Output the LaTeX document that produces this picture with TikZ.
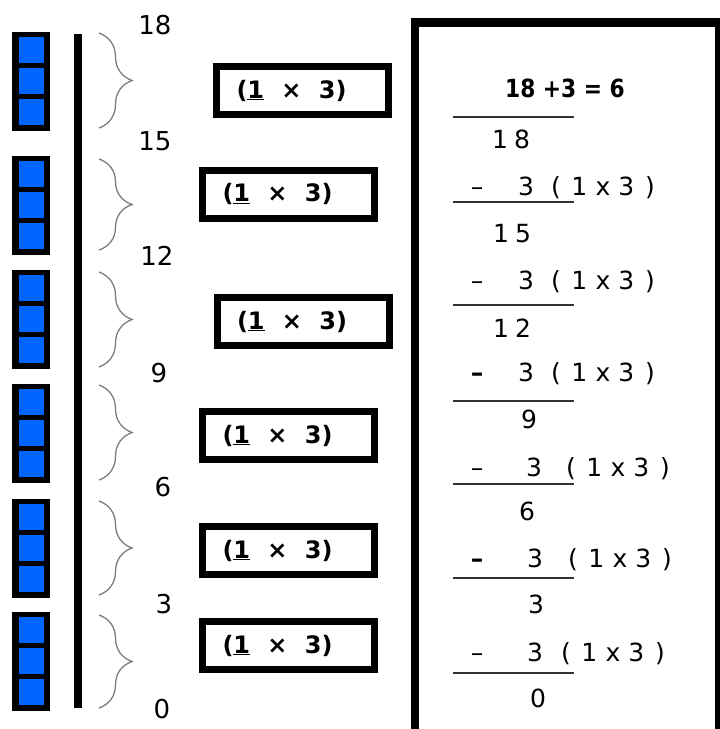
\documentclass[tikz,border=0pt]{standalone}
\usepackage{fontspec}
\setmainfont{DejaVu Sans}
\usetikzlibrary{decorations.pathreplacing}
\definecolor{blk}{RGB}{0,102,255}
\definecolor{bracegray}{RGB}{125,125,125}
\newcommand\cell[1]{\makebox[23.5pt][c]{#1}}
\newcommand\dig[1]{\makebox[22pt][c]{#1}}
\newcommand\grp{(\underline{1}\hspace{0.72em}×\hspace{0.72em}3)}
\begin{document}
\begin{tikzpicture}[x=1pt,y=-1pt,
  tally/.style={font=\fontsize{26}{26}\selectfont, inner sep=0pt},
  grpbox/.style={draw=black, line width=7pt, minimum width=172pt, minimum height=48pt,
    text width=132pt, inner xsep=20pt, inner ysep=0pt, align=left,
    font=\bfseries\fontsize{24}{24}\selectfont},
  calc/.style={font=\fontsize{25}{25}\selectfont, inner sep=0pt, anchor=base},
  calcgrp/.style={font=\fontsize{25}{25}\selectfont, inner sep=0pt, anchor=base west},
  eqstyle/.style={font=\bfseries\fontsize{25}{25}\selectfont, inner sep=0pt, anchor=base},
  rule/.style={line width=2pt, draw=black!80},
  brc/.style={decorate, decoration={brace, amplitude=33pt}, draw=bracegray, line width=1.3pt},
  frame/.style={draw=black, line width=8.5pt}
]
\clip (0,0) rectangle (720,729);
\fill[white] (0,0) rectangle (720,729);

% blocks of three
\foreach \t in {32,156,270,384,499,612} {
  \fill[black] (12,\t) rectangle (50,\t+99);
  \fill[blk] (19,\t+5) rectangle (44,\t+31);
  \fill[blk] (19,\t+36) rectangle (44,\t+62);
  \fill[blk] (19,\t+67) rectangle (44,\t+93);
}

% number line
\coordinate (lt) at (78,34);
\coordinate (lb) at (78,708);
\draw[line width=8pt] (lt) -- (lb);

% braces
\foreach \a/\b in {33/128,159/250,272/367,385/480,501/595,615/708} {
  \draw[brc] (99,\a) -- (99,\b);
}

% tally numbers
\node[tally] (n18) at (155,25) {18};
\node[tally] (n15) at (155,141) {15};
\node[tally] (n12) at (157,256) {12};
\node[tally] (n9) at (159,373) {9};
\node[tally] (n6) at (163,487) {6};
\node[tally] (n3) at (164,604) {3};
\node[tally] (n0) at (162,709) {0};

% group boxes
\node[grpbox] (b1) at (302.5,90.5) {\grp};
\node[grpbox] (b2) at (288.5,194) {\grp};
\node[grpbox] (b3) at (303,321.5) {\grp};
\node[grpbox] (b4) at (288.5,435.5) {\grp};
\node[grpbox] (b5) at (288.5,550.5) {\grp};
\node[grpbox] (b6) at (288.5,645.5) {\grp};

% right frame
\draw[frame] (415,22.5) rectangle (719,760);

% division work
\node[eqstyle] (eq) at (565,97) {\scalebox{0.87}[1]{18 +3 = 6}};
\draw[rule] (453,117) -- (574,117);
\node[calc] (v18) at (511,148) {\dig{1}\dig{8}};

\node[calc] (ma) at (477,195) {–};
\node[calc] (ta) at (526,195) {3};
\node[calcgrp] (ga) at (544,195) {\cell{(}\cell{1}\cell{x}\cell{3}\cell{)}};
\draw[rule] (453,202) -- (574,202);
\node[calc] (v15) at (512,242) {\dig{1}\dig{5}};

\node[calc] (mb) at (477,289) {–};
\node[calc] (tb) at (526,289) {3};
\node[calcgrp] (gb) at (544,289) {\cell{(}\cell{1}\cell{x}\cell{3}\cell{)}};
\draw[rule] (453,305) -- (574,305);
\node[calc] (v12) at (512,337) {\dig{1}\dig{2}};

\node[calc] (mc) at (477,381) {\bfseries –};
\node[calc] (tc) at (526,381) {3};
\node[calcgrp] (gc) at (544,381) {\cell{(}\cell{1}\cell{x}\cell{3}\cell{)}};
\draw[rule] (453,401) -- (574,401);
\node[calc] (v9) at (529,428) {9};

\node[calc] (md) at (477,476) {–};
\node[calc] (td) at (534,476) {3};
\node[calcgrp] (gd) at (559,476) {\cell{(}\cell{1}\cell{x}\cell{3}\cell{)}};
\draw[rule] (453,484) -- (574,484);
\node[calc] (v6) at (527,520) {6};

\node[calc] (me) at (477,567) {\bfseries –};
\node[calc] (te) at (535,567) {3};
\node[calcgrp] (ge) at (561,567) {\cell{(}\cell{1}\cell{x}\cell{3}\cell{)}};
\draw[rule] (453,578) -- (574,578);
\node[calc] (v3) at (536,613) {3};

\node[calc] (mf) at (477,661) {–};
\node[calc] (tf) at (535,661) {3};
\node[calcgrp] (gf) at (554,661) {\cell{(}\cell{1}\cell{x}\cell{3}\cell{)}};
\draw[rule] (453,673) -- (574,673);
\node[calc] (v0) at (538,707) {0};
\end{tikzpicture}
\end{document}
